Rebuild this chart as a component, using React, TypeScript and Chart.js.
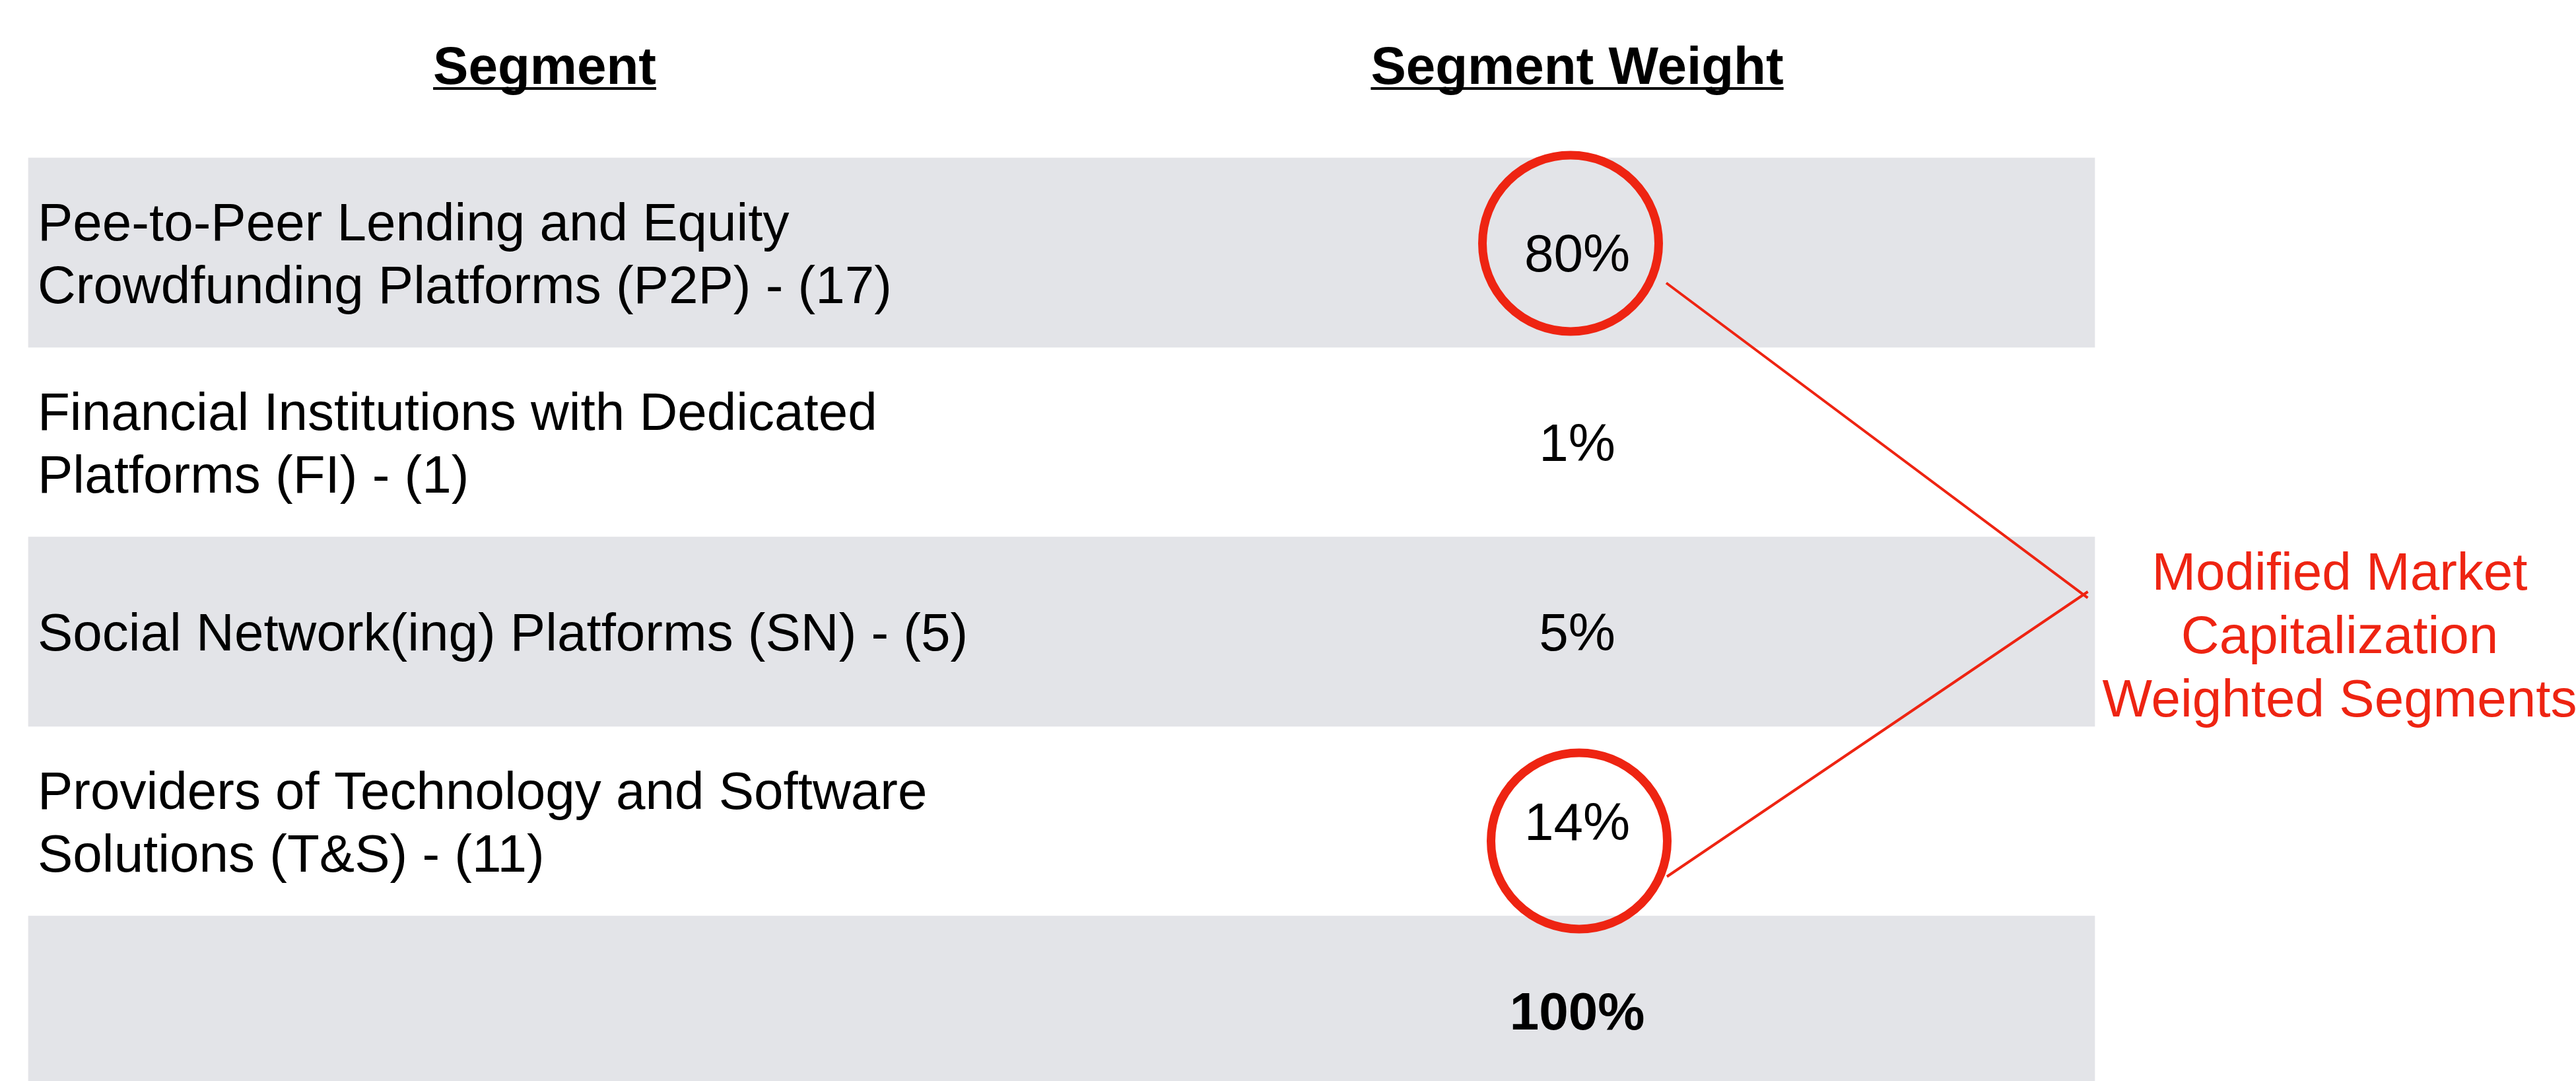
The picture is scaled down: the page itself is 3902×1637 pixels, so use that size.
import React, { useEffect, useRef } from "react";
import { Chart, registerables } from "chart.js";

Chart.register(...registerables);

// ---------- data ----------
const HEADERS = ["Segment", "Segment Weight"];
const SEGMENTS: string[][] = [
  ["Pee-to-Peer Lending and Equity", "Crowdfunding Platforms (P2P) - (17)"],
  ["Financial Institutions with Dedicated", "Platforms (FI) - (1)"],
  ["Social Network(ing) Platforms (SN) - (5)"],
  ["Providers of Technology and Software", "Solutions (T&S) - (11)"],
];
const WEIGHTS = [80, 1, 5, 14];
const TOTAL_WEIGHT = 100;
const HIGHLIGHTED_ROWS = [0, 3];
const ANNOTATION = ["Modified Market", "Capitalization", "Weighted Segments"];

// ---------- layout / style ----------
const W = 3902;
const H = 1637;
const FONT = '"Liberation Sans", Arial, Helvetica, sans-serif';
const FONT_SIZE = 80;
const CAP = 57;
const LINE_H = 95;
const GRAY = "rgb(227,228,232)";
const RED = "rgb(238,36,18)";
const TABLE_LEFT = 43;
const TABLE_RIGHT = 3173;
const TEXT_LEFT = 57;
const SEG_HEADER_X = 825;
const WEIGHT_X = 2389;
const ANNOT_X = 3544;
const Y_MIN = -0.3328;
const Y_MAX = Y_MIN + H / 287;
const CIRCLE_OFFSETS: Record<number, [number, number]> = { 0: [-10, -14], 3: [3, 30] };
const CIRCLE_R = 133.5;

const rowCount = SEGMENTS.length + 1; // + total row

const tablePlugin = {
  id: "tableDraw",
  afterDatasetsDraw(chart: any) {
    const { ctx } = chart;
    const xs = chart.scales.x;
    const ys = chart.scales.y;
    const px = (v: number) => xs.getPixelForValue(v);
    const py = (v: number) => ys.getPixelForValue(v);
    ctx.save();

    // headers
    ctx.fillStyle = "#000";
    ctx.font = `bold ${FONT_SIZE}px ${FONT}`;
    ctx.textAlign = "center";
    ctx.textBaseline = "alphabetic";
    const hb = py(0) + CAP / 2 + 3;
    [SEG_HEADER_X, WEIGHT_X].forEach((hx, i) => {
      const x = px(hx);
      ctx.fillText(HEADERS[i], x, hb);
      const w = ctx.measureText(HEADERS[i]).width;
      ctx.fillRect(x - w / 2, hb + 5, w, 4);
    });

    // segment labels
    ctx.font = `${FONT_SIZE}px ${FONT}`;
    SEGMENTS.forEach((lines, r) => {
      const cy = py(r + 1);
      ctx.textAlign = "left";
      lines.forEach((ln, k) => {
        ctx.fillText(ln, px(TEXT_LEFT), cy + CAP / 2 + (k - (lines.length - 1) / 2) * LINE_H);
      });
      ctx.textAlign = "center";
      ctx.fillText(`${WEIGHTS[r]}%`, px(WEIGHT_X), cy + CAP / 2);
    });

    // total
    ctx.font = `bold ${FONT_SIZE}px ${FONT}`;
    ctx.textAlign = "center";
    ctx.fillText(`${TOTAL_WEIGHT}%`, px(WEIGHT_X), py(rowCount) + CAP / 2);

    // circles
    ctx.strokeStyle = RED;
    ctx.lineWidth = 13;
    const centers: [number, number][] = [];
    HIGHLIGHTED_ROWS.forEach((r) => {
      const off = CIRCLE_OFFSETS[r] || [0, 0];
      const cx = px(WEIGHT_X) + off[0];
      const cy = py(r + 1) + off[1];
      centers.push([cx, cy]);
      ctx.beginPath();
      ctx.arc(cx, cy, CIRCLE_R, 0, Math.PI * 2);
      ctx.stroke();
    });

    // connectors
    const annotRow = 3;
    const vx = px(TABLE_RIGHT) - 17;
    const vy = py(annotRow) - 56;
    ctx.lineWidth = 4;
    const starts: [number, number][] = [
      [centers[0][0] + 145, centers[0][1] + 60],
      [centers[1][0] + 133, centers[1][1] + 54],
    ];
    starts.forEach(([sx, sy]) => {
      const dx = vx - sx;
      const dy = vy - sy;
      const len = Math.hypot(dx, dy);
      const ex = vx + (dx / len) * 8;
      const ey = vy + (dy / len) * 8;
      ctx.beginPath();
      ctx.moveTo(sx, sy);
      ctx.lineTo(ex, ey);
      ctx.stroke();
    });

    // annotation text
    ctx.fillStyle = RED;
    ctx.font = `${FONT_SIZE}px ${FONT}`;
    ctx.textAlign = "center";
    const acy = py(annotRow) + 4;
    ANNOTATION.forEach((ln, k) => {
      ctx.fillText(ln, px(ANNOT_X), acy + CAP / 2 + (k - (ANNOTATION.length - 1) / 2) * 96);
    });

    ctx.restore();
  },
};

export default function App() {
  const ref = useRef<HTMLCanvasElement | null>(null);
  useEffect(() => {
    if (!ref.current) return;
    const rows = Array.from({ length: rowCount }, (_, i) => i + 1);
    const chart = new Chart(ref.current, {
      type: "bar",
      data: {
        datasets: [
          {
            data: rows.map((r) => ({ x: [TABLE_LEFT, TABLE_RIGHT], y: r })) as any,
            backgroundColor: rows.map((r) => (r % 2 === 1 ? GRAY : "rgba(255,255,255,0)")),
            borderWidth: 0,
            barPercentage: 1,
            categoryPercentage: 1,
          },
        ],
      },
      options: {
        indexAxis: "y",
        animation: false,
        responsive: false,
        devicePixelRatio: 1,
        layout: { padding: 0 },
        events: [],
        plugins: { legend: { display: false }, tooltip: { enabled: false } },
        scales: {
          x: { type: "linear", min: 0, max: W, display: false, offset: false },
          y: {
            type: "linear",
            min: Y_MIN,
            max: Y_MAX,
            reverse: true,
            display: false,
            offset: false,
            afterBuildTicks: (scale: any) => {
              scale.ticks = rows.map((v) => ({ value: v }));
            },
          },
        },
      } as any,
      plugins: [tablePlugin],
    });
    return () => chart.destroy();
  }, []);
  return (
    <div style={{ position: "absolute", left: 0, top: 0, width: W, height: H, background: "#fff" }}>
      <canvas ref={ref} width={W} height={H} style={{ width: W, height: H, display: "block" }} />
    </div>
  );
}
